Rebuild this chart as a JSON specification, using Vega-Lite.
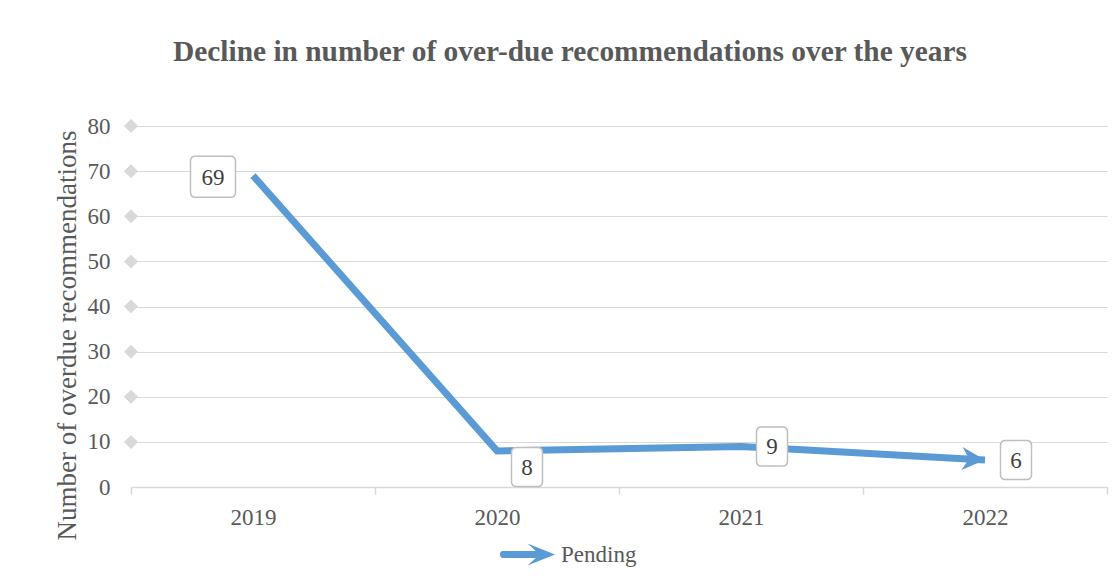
{
  "$schema": "https://vega.github.io/schema/vega-lite/v6.json",
  "width": 976,
  "height": 361,
  "autosize": "none",
  "padding": {"left": 131, "top": 126, "right": 10, "bottom": 101},
  "background": "white",
  "config": {"font": "Liberation Serif", "view": {"stroke": null}},
  "title": {
    "text": "Decline in number of over-due recommendations over the years",
    "font": "Liberation Serif",
    "fontSize": 29.4,
    "fontWeight": "bold",
    "color": "#595959",
    "anchor": "middle",
    "frame": "group",
    "dx": -49,
    "offset": 48
  },
  "datasets": {
    "main": [
      {"year": "2019", "value": 69, "series": "Pending"},
      {"year": "2020", "value": 8, "series": "Pending"},
      {"year": "2021", "value": 9, "series": "Pending"},
      {"year": "2022", "value": 6, "series": "Pending"}
    ],
    "ticks": [
      {"value": 10}, {"value": 20}, {"value": 30}, {"value": 40},
      {"value": 50}, {"value": 60}, {"value": 70}, {"value": 80}
    ]
  },
  "layer": [
    {
      "data": {"name": "ticks"},
      "mark": {"type": "point", "shape": "diamond", "size": 196, "filled": true, "color": "#D9D9D9", "opacity": 1},
      "encoding": {
        "x": {"value": 0},
        "y": {"field": "value", "type": "quantitative", "scale": {"domain": [0, 80], "nice": false}}
      }
    },
    {
      "data": {"name": "main"},
      "mark": {"type": "line", "color": "#5B9BD5", "strokeWidth": 7, "strokeJoin": "round", "strokeCap": "butt"},
      "encoding": {
        "x": {
          "field": "year", "type": "ordinal",
          "scale": {"type": "band", "paddingInner": 0, "paddingOuter": 0},
          "axis": {
            "title": null, "labelAngle": 0, "tickBand": "extent",
            "domainColor": "#D9D9D9", "domainWidth": 1.5,
            "tickColor": "#D9D9D9", "tickWidth": 1.5, "tickSize": 7,
            "labelFont": "Liberation Serif", "labelFontSize": 23, "labelColor": "#595959", "labelPadding": 12
          }
        },
        "y": {
          "field": "value", "type": "quantitative",
          "scale": {"domain": [0, 80], "nice": false},
          "axis": {
            "title": "Number of overdue recommendations",
            "values": [0, 10, 20, 30, 40, 50, 60, 70, 80],
            "grid": true, "gridColor": "#D9D9D9", "gridWidth": 1,
            "domain": false, "ticks": false, "tickSize": 0,
            "labelFont": "Liberation Serif", "labelFontSize": 23, "labelColor": "#595959", "labelPadding": 21,
            "titleFont": "Liberation Serif", "titleFontSize": 27, "titleFontWeight": "normal", "titleColor": "#595959",
            "titleAngle": -90, "titleBaseline": "middle", "titleX": -64, "titleY": 209
          }
        }
      }
    },
    {
      "data": {"name": "main"},
      "transform": [{"filter": "datum.year == '2022'"}],
      "mark": {"type": "point", "shape": "M0,0 L-23,-11.5 L-16,0 L-23,11.5 Z", "size": 4, "angle": 3.3, "filled": true, "opacity": 1, "strokeWidth": 0},
      "encoding": {
        "x": {"field": "year", "type": "ordinal"},
        "y": {"field": "value", "type": "quantitative"},
        "color": {
          "field": "series", "type": "nominal",
          "scale": {"range": ["#5B9BD5"]},
          "legend": {
            "title": null, "orient": "none", "legendX": 369, "legendY": 401,
            "symbolType": "M-0.9,-0.125 L0.3,-0.125 L0,-0.4 L1,0 L0,0.4 L0.3,0.125 L-0.9,0.125 Q-1,0.125 -1,0 Q-1,-0.125 -0.9,-0.125 Z",
            "symbolSize": 3025, "symbolStrokeWidth": 0, "symbolOpacity": 1,
            "labelFont": "Liberation Serif", "labelFontSize": 23, "labelColor": "#595959", "labelOffset": 6
          }
        }
      }
    },
    {
      "data": {"name": "main"},
      "transform": [{"filter": "datum.year == '2019'"}],
      "encoding": {
        "x": {"field": "year", "type": "ordinal"},
        "y": {"field": "value", "type": "quantitative"}
      },
      "layer": [
        {"mark": {"type": "point", "shape": "M-17.5,-20.5 L17.5,-20.5 Q22.5,-20.5 22.5,-15.5 L22.5,15.5 Q22.5,20.5 17.5,20.5 L-17.5,20.5 Q-22.5,20.5 -22.5,15.5 L-22.5,-15.5 Q-22.5,-20.5 -17.5,-20.5 Z", "size": 4, "filled": false, "fill": "white", "fillOpacity": 1, "stroke": "#BFBFBF", "strokeWidth": 1.5, "opacity": 1, "xOffset": -40, "yOffset": 1}},
        {"mark": {"type": "text", "font": "Liberation Serif", "fontSize": 23, "color": "#404040", "baseline": "middle", "dx": -40, "dy": 2}, "encoding": {"text": {"field": "value"}}}
      ]
    },
    {
      "data": {"name": "main"},
      "transform": [{"filter": "datum.year == '2020'"}],
      "encoding": {
        "x": {"field": "year", "type": "ordinal"},
        "y": {"field": "value", "type": "quantitative"}
      },
      "layer": [
        {"mark": {"type": "point", "shape": "M-10.5,-19.5 L10.5,-19.5 Q15.5,-19.5 15.5,-14.5 L15.5,14.5 Q15.5,19.5 10.5,19.5 L-10.5,19.5 Q-15.5,19.5 -15.5,14.5 L-15.5,-14.5 Q-15.5,-19.5 -10.5,-19.5 Z", "size": 4, "filled": false, "fill": "white", "fillOpacity": 1, "stroke": "#BFBFBF", "strokeWidth": 1.5, "opacity": 1, "xOffset": 30, "yOffset": 16}},
        {"mark": {"type": "text", "font": "Liberation Serif", "fontSize": 23, "color": "#404040", "baseline": "middle", "dx": 30, "dy": 17}, "encoding": {"text": {"field": "value"}}}
      ]
    },
    {
      "data": {"name": "main"},
      "transform": [{"filter": "datum.year == '2021' || datum.year == '2022'"}],
      "encoding": {
        "x": {"field": "year", "type": "ordinal"},
        "y": {"field": "value", "type": "quantitative"}
      },
      "layer": [
        {"mark": {"type": "point", "shape": "M-10.5,-19.5 L10.5,-19.5 Q15.5,-19.5 15.5,-14.5 L15.5,14.5 Q15.5,19.5 10.5,19.5 L-10.5,19.5 Q-15.5,19.5 -15.5,14.5 L-15.5,-14.5 Q-15.5,-19.5 -10.5,-19.5 Z", "size": 4, "filled": false, "fill": "white", "fillOpacity": 1, "stroke": "#BFBFBF", "strokeWidth": 1.5, "opacity": 1, "xOffset": 31, "yOffset": 0}},
        {"mark": {"type": "text", "font": "Liberation Serif", "fontSize": 23, "color": "#404040", "baseline": "middle", "dx": 31, "dy": 1}, "encoding": {"text": {"field": "value"}}}
      ]
    }
  ]
}
